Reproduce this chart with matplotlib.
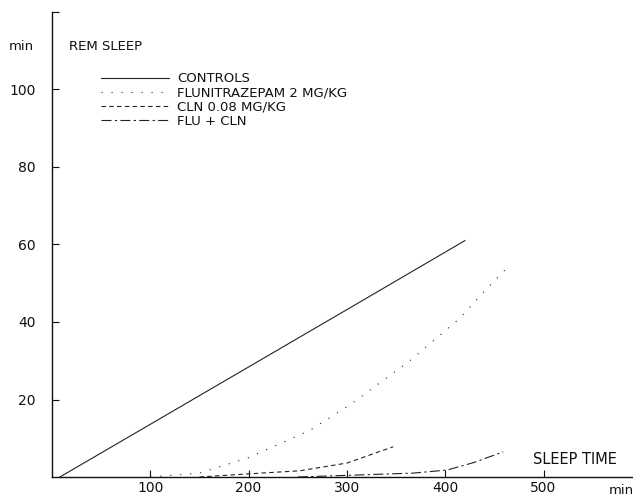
import matplotlib
matplotlib.use("Agg")
import matplotlib.pyplot as plt

# Data
controls_x = [8, 100, 200, 300, 420]
controls_y = [0, 13.6, 28.4, 43.2, 61]

flu_x = [100, 150, 200, 262, 303, 364, 415, 440, 463]
flu_y = [0, 1, 5, 12, 18.6, 30, 41, 48, 54]

cln_x = [150, 212, 252, 300, 347]
cln_y = [0, 1, 1.6, 3.6, 7.8]

flucln_x = [250, 367, 402, 430, 459]
flucln_y = [0, 1, 1.8, 3.8, 6.5]

labels = ["CONTROLS", "FLUNITRAZEPAM 2 MG/KG", "CLN 0.08 MG/KG", "FLU + CLN"]
x_ticks = [100, 200, 300, 400, 500]
y_ticks = [20, 40, 60, 80, 100]

plt.rcParams['font.family'] = ['DejaVu Sans']
fig = plt.figure(figsize=(6.33, 4.97), dpi=100)
ax = fig.add_axes([52/633, 1 - 477/497, 1 - 52/633, (477 - 12)/497])
ax.set_xlim(0, 591)
ax.set_ylim(0, 120)

col = '#222222'
lw = 0.8
styles = ['-', (0, (1, 8)), (0, (4, 3)), (0, (9, 3, 2, 3))]
series = [(controls_x, controls_y), (flu_x, flu_y), (cln_x, cln_y), (flucln_x, flucln_y)]
for (xs, ys), ls, lab in zip(series, styles, labels):
    ax.plot(xs, ys, color=col, lw=lw, linestyle=ls, label=lab)

for s in ['top', 'right']:
    ax.spines[s].set_visible(False)
for s in ['left', 'bottom']:
    ax.spines[s].set_linewidth(1.0)
    ax.spines[s].set_color('#111111')

ax.set_xticks(x_ticks)
ax.set_xticklabels([str(v) for v in x_ticks])
ax.set_yticks(y_ticks + [120])
ax.set_yticklabels([str(v) for v in y_ticks] + [''])
ax.tick_params(direction='in', length=5, width=0.8, color='#111111',
               labelsize=10, labelcolor='#111111')
ax.tick_params(axis='x', pad=3)
ax.tick_params(axis='y', pad=12)

tc = '#111111'
ax.text(-0.075, 0.925, "min", transform=ax.transAxes, fontsize=9.5, ha='left', va='center', color=tc)
ax.text(0.029, 0.925, "REM SLEEP", transform=ax.transAxes, fontsize=9.5, ha='left', va='center', color=tc)
ax.text(0.828, 0.037, "SLEEP TIME", transform=ax.transAxes, fontsize=10.5, ha='left', va='center', color=tc)
ax.text(0.958, -0.03, "min", transform=ax.transAxes, fontsize=9.5, ha='left', va='center', color=tc, clip_on=False)

leg = ax.legend(loc='upper left', bbox_to_anchor=(0.075, 0.882), frameon=False,
                handlelength=5.2, handletextpad=0.6, labelspacing=0.1,
                fontsize=9.5, borderaxespad=0)
for t in leg.get_texts():
    t.set_color(tc)

fig.savefig("out.png", dpi=100)
